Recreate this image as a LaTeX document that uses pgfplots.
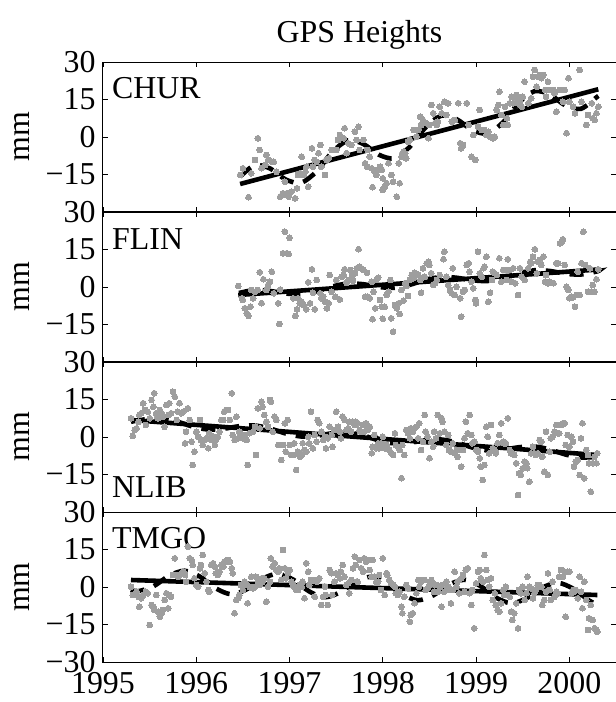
\documentclass[border=0pt]{standalone}
\usepackage{fontspec}
\setmainfont{Liberation Serif}
\usepackage{pgfplots}
\pgfplotsset{compat=1.18}
\definecolor{dotgray}{RGB}{158,158,158}
\newcommand{\bigf}{\fontsize{32}{33}\selectfont}
\pgfplotsset{
  gpspanel/.style={
    scale only axis, width=513bp, height=150bp,
    xmin=1995, xmax=2000.5, ymin=-30, ymax=30,
    xtick={1995,1996,1997,1998,1999,2000},
    ytick={-30,-15,0,15,30},
    xticklabels={},
    yticklabels={,−15,0,15,30},
    tick align=inside, tick pos=both,
    major tick length=5bp,
    axis line style={line width=1bp},
    every tick/.style={black, line width=0.8bp},
    tick label style={font=\bigf},
    yticklabel style={xshift=-4bp},
    xticklabel style={inner sep=0pt, anchor=north, yshift=-10bp},
    ylabel={mm},
    ylabel style={font=\bigf, at={(0,0.5)}, anchor=center, yshift=81bp},
    anchor=north west,
  },
  dots/.style={only marks, color=dotgray, mark=*, mark size=2.9bp,
    mark options={solid, draw=dotgray, fill=dotgray, line width=0pt}},
  trend/.style={black, line width=4.6bp, no markers},
  seas/.style={black, line width=4.6bp, dash pattern=on 14bp off 10bp, no markers, smooth},
}
\begin{document}
\begin{tikzpicture}
\path[use as bounding box] (-103bp,-640bp) rectangle (513bp,62bp);

% CHUR
\begin{axis}[gpspanel, at={(0,0)},
  title={GPS Heights}, title style={font=\bigf, at={(0.5,1)}, anchor=base, yshift=14bp}]
\addplot[dots] coordinates {
(1996.50,-12.5) (1996.47,-15.2) (1996.56,-24.1) (1996.59,-14.5) (1996.63,-9.2) (1996.66,-0.5)
(1996.68,-5.2) (1996.70,-12.5) (1996.74,-11.2) (1996.75,-7.2) (1996.77,-9.2) (1996.81,-9.9)
(1996.83,-9.9) (1996.86,-13.9) (1996.90,-23.9) (1996.92,-23.2) (1996.93,-22.5) (1996.95,-17.9)
(1996.97,-22.5) (1996.99,-23.9) (1997.00,-22.5) (1997.02,-21.9) (1997.06,-24.5) (1997.08,-20.5)
(1997.09,-15.2) (1997.11,-14.5) (1997.13,-7.9) (1997.15,-15.2) (1997.17,-13.9) (1997.18,-11.9)
(1997.20,-19.9) (1997.24,-4.5) (1997.25,-11.9) (1997.27,-9.2) (1997.29,-9.9) (1997.31,-6.5)
(1997.33,-3.2) (1997.34,-11.9) (1997.38,-15.2) (1997.40,-9.2) (1997.42,-8.5) (1997.45,-5.2)
(1997.47,-5.2) (1997.50,-5.2) (1997.52,-1.2) (1997.54,0.8) (1997.58,-0.5) (1997.59,3.5)
(1997.61,-6.5) (1997.63,-2.5) (1997.66,-3.2) (1997.70,2.1) (1997.72,-1.2) (1997.74,4.1)
(1997.75,-5.2) (1997.79,-1.2) (1997.81,-10.5) (1997.83,-11.9) (1997.84,-5.2) (1997.86,-7.9)
(1997.88,-12.5) (1997.89,-20.1) (1997.90,-13.2) (1997.92,-13.9) (1997.93,-15.2) (1997.95,-13.2)
(1997.97,-11.9) (1997.99,-13.2) (1998.00,-21.2) (1998.00,-16.5) (1998.02,-19.9) (1998.04,-18.5)
(1998.06,-10.5) (1998.09,-15.2) (1998.11,-17.9) (1998.15,-23.9) (1998.17,-10.5) (1998.18,-18.5)
(1998.20,-7.9) (1998.22,-5.9) (1998.24,-6.5) (1998.25,-8.5) (1998.27,-1.9) (1998.29,-1.2)
(1998.33,2.8) (1998.36,0.1) (1998.38,2.8) (1998.40,8.1) (1998.41,4.8) (1998.43,6.8)
(1998.47,5.5) (1998.49,-0.5) (1998.50,4.8) (1998.52,12.8) (1998.54,9.5) (1998.56,5.5)
(1998.58,4.8) (1998.59,6.1) (1998.61,12.1) (1998.63,9.5) (1998.66,14.1) (1998.68,8.8)
(1998.70,13.5) (1998.74,6.1) (1998.77,6.8) (1998.81,13.5) (1998.83,-2.5) (1998.84,-4.5)
(1998.86,-3.2) (1998.90,13.5) (1998.92,4.8) (1998.95,-7.9) (1998.97,0.8) (1998.99,-9.2)
(1999.02,4.1) (1999.04,10.8) (1999.06,2.8) (1999.09,2.8) (1999.11,0.8) (1999.13,2.1)
(1999.15,0.1) (1999.18,-0.5) (1999.20,0.1) (1999.22,10.8) (1999.24,12.8) (1999.25,18.1)
(1999.27,8.8) (1999.29,4.8) (1999.31,12.1) (1999.33,7.5) (1999.34,4.8) (1999.36,13.5)
(1999.38,16.1) (1999.40,13.5) (1999.42,15.5) (1999.43,16.8) (1999.45,13.5) (1999.47,14.1)
(1999.49,12.1) (1999.50,16.1) (1999.52,22.1) (1999.56,13.5) (1999.59,15.5) (1999.61,24.1)
(1999.63,26.8) (1999.65,20.1) (1999.66,24.1) (1999.68,24.8) (1999.70,23.5) (1999.72,24.8)
(1999.74,18.8) (1999.75,16.1) (1999.77,22.1) (1999.79,18.8) (1999.83,18.8) (1999.84,17.5)
(1999.86,10.1) (1999.90,18.8) (1999.93,14.1) (1999.95,18.8) (1999.97,1.5) (1999.99,23.5)
(2000.00,14.1) (2000.04,12.1) (2000.06,9.5) (2000.11,26.8) (2000.13,14.1) (2000.18,4.8)
(2000.20,8.8) (2000.24,13.5) (2000.25,7.5) (2000.27,6.8) (2000.29,9.5) (2000.31,12.1)
};
\addplot[seas] coordinates {
(1996.47,-15.9) (1996.625,-11.3) (1996.792,-12.6) (1996.958,-17.0) (1997.125,-18.3)
(1997.292,-13.7) (1997.458,-6.0) (1997.625,-1.4) (1997.792,-2.8) (1997.958,-7.1)
(1998.125,-8.5) (1998.292,-3.8) (1998.458,3.8) (1998.625,8.5) (1998.792,7.1)
(1998.958,2.8) (1999.125,1.4) (1999.292,6.0) (1999.458,13.7) (1999.625,18.3)
(1999.792,17.0) (1999.958,12.6) (2000.125,11.3) (2000.292,15.9) (2000.31,16.4)
};
\addplot[trend] coordinates {(1996.47,-18.8) (2000.31,19.1)};
\node[anchor=north west, inner sep=0, font=\bigf, xshift=9bp, yshift=-15bp] at (rel axis cs:0,1) {CHUR};
\end{axis}

% FLIN
\begin{axis}[gpspanel, at={(0,-150bp)}]
\addplot[dots] coordinates {
(1996.45,0.4) (1996.49,-4.5) (1996.50,-5.2) (1996.52,-8.5) (1996.54,-10.5) (1996.56,-11.6)
(1996.58,-7.9) (1996.59,-1.2) (1996.61,-4.5) (1996.63,-1.9) (1996.66,-1.2) (1996.68,5.9)
(1996.70,-6.5) (1996.72,3.1) (1996.75,-1.2) (1996.77,0.8) (1996.79,2.1) (1996.81,6.1)
(1996.83,-2.5) (1996.88,-6.5) (1996.89,-14.8) (1996.90,-1.0) (1996.93,13.5) (1996.95,22.1)
(1996.97,13.5) (1996.99,13.2) (1997.00,19.7) (1997.04,-4.5) (1997.06,-11.6) (1997.08,-8.9)
(1997.09,-4.5) (1997.11,-6.5) (1997.13,-5.9) (1997.15,-7.2) (1997.18,-8.9) (1997.20,1.9)
(1997.22,-6.5) (1997.24,7.1) (1997.25,-2.3) (1997.27,-8.9) (1997.29,2.8) (1997.33,-2.5)
(1997.34,-4.5) (1997.36,-3.9) (1997.38,-5.9) (1997.40,-8.5) (1997.42,-6.5) (1997.43,4.8)
(1997.45,-1.9) (1997.49,-3.9) (1997.50,2.8) (1997.54,-5.0) (1997.56,4.1) (1997.58,4.8)
(1997.59,7.1) (1997.61,1.7) (1997.63,2.8) (1997.65,6.8) (1997.67,4.8) (1997.68,2.5)
(1997.70,5.5) (1997.72,7.5) (1997.74,15.1) (1997.75,8.1) (1997.77,7.5) (1997.79,6.8)
(1997.81,-3.9) (1997.83,5.7) (1997.84,-3.9) (1997.86,-4.5) (1997.88,2.1) (1997.89,-12.9)
(1997.90,-1.9) (1997.92,-8.5) (1997.93,2.8) (1997.95,3.7) (1997.97,-5.2) (1997.99,-7.9)
(1998.00,-12.7) (1998.02,-7.9) (1998.04,-3.2) (1998.06,-1.9) (1998.08,2.8) (1998.09,-12.5)
(1998.11,-17.9) (1998.13,-7.2) (1998.15,-8.5) (1998.17,-6.5) (1998.18,-10.8) (1998.20,-1.2)
(1998.22,-5.5) (1998.24,1.5) (1998.25,0.4) (1998.27,-3.6) (1998.29,2.8) (1998.31,4.8)
(1998.33,3.5) (1998.34,5.7) (1998.36,5.2) (1998.38,4.8) (1998.40,2.8) (1998.41,-2.3)
(1998.43,7.5) (1998.45,4.1) (1998.47,9.5) (1998.49,10.1) (1998.50,8.8) (1998.52,5.5)
(1998.54,0.8) (1998.56,1.5) (1998.58,2.8) (1998.61,4.8) (1998.65,11.1) (1998.66,14.1)
(1998.68,4.1) (1998.70,0.8) (1998.72,-1.2) (1998.74,-2.5) (1998.75,7.5) (1998.77,-3.2)
(1998.79,0.1) (1998.83,-4.5) (1998.84,-11.9) (1998.86,-1.9) (1998.88,-1.2) (1998.90,8.8)
(1998.92,9.5) (1998.93,6.1) (1998.95,2.1) (1998.97,-0.5) (1998.99,-5.2) (1999.00,-6.5)
(1999.02,14.1) (1999.04,5.5) (1999.06,4.1) (1999.08,7.5) (1999.09,8.1) (1999.11,12.1)
(1999.13,-5.9) (1999.15,-2.3) (1999.17,2.8) (1999.18,6.1) (1999.20,5.5) (1999.22,4.8)
(1999.25,11.5) (1999.27,2.1) (1999.29,6.8) (1999.31,6.8) (1999.33,2.8) (1999.34,11.1)
(1999.36,6.8) (1999.38,2.1) (1999.40,7.5) (1999.42,1.5) (1999.45,-3.2) (1999.47,7.5)
(1999.49,4.1) (1999.52,2.8) (1999.56,7.5) (1999.58,10.1) (1999.59,9.5) (1999.61,12.1)
(1999.63,15.1) (1999.65,5.5) (1999.66,10.1) (1999.68,10.8) (1999.70,8.8) (1999.72,12.1)
(1999.74,2.1) (1999.75,4.8) (1999.77,1.5) (1999.79,2.1) (1999.83,1.5) (1999.86,9.5)
(1999.88,9.5) (1999.90,17.5) (1999.92,18.1) (1999.93,19.1) (1999.95,8.8) (1999.97,0.1)
(1999.99,-1.2) (2000.00,-4.5) (2000.02,-3.9) (2000.04,-4.1) (2000.06,-7.9) (2000.08,-3.2)
(2000.09,6.1) (2000.11,-3.2) (2000.13,9.5) (2000.15,22.1) (2000.17,8.8) (2000.20,-1.9)
(2000.22,7.5) (2000.24,-1.9) (2000.25,0.8) (2000.27,-1.9) (2000.29,3.1) (2000.31,7.1)
};
\addplot[seas] coordinates {
(1996.458,-2.4) (1996.625,-1.2) (1996.792,-1.6) (1996.958,-2.6) (1997.125,-2.9)
(1997.292,-1.7) (1997.458,0.2) (1997.625,1.4) (1997.792,1.1) (1997.958,0.0)
(1998.125,-0.3) (1998.292,0.9) (1998.458,2.9) (1998.625,4.0) (1998.792,3.7)
(1998.958,2.7) (1999.125,2.4) (1999.292,3.6) (1999.458,5.5) (1999.625,6.7)
(1999.792,6.4) (1999.958,5.3) (2000.125,5.0) (2000.292,6.2) (2000.31,6.3)
};
\addplot[trend] coordinates {(1996.45,-3.2) (2000.31,7.0)};
\node[anchor=north west, inner sep=0, font=\bigf, xshift=9bp, yshift=-16bp] at (rel axis cs:0,1) {FLIN};
\end{axis}

% NLIB
\begin{axis}[gpspanel, at={(0,-300bp)}]
\addplot[dots] coordinates {
(1995.30,7.5) (1995.32,0.4) (1995.34,2.8) (1995.36,3.5) (1995.38,6.1) (1995.39,8.8)
(1995.41,9.5) (1995.43,13.5) (1995.45,10.8) (1995.46,4.8) (1995.48,10.1) (1995.50,7.5)
(1995.52,14.8) (1995.54,12.1) (1995.55,17.5) (1995.57,9.5) (1995.59,7.5) (1995.61,10.8)
(1995.63,9.5) (1995.64,8.1) (1995.66,4.1) (1995.68,12.8) (1995.70,8.8) (1995.71,13.5)
(1995.73,9.5) (1995.75,18.1) (1995.77,16.1) (1995.79,6.8) (1995.80,10.1) (1995.82,13.5)
(1995.84,9.5) (1995.86,10.1) (1995.88,-2.5) (1995.89,2.1) (1995.91,11.5) (1995.93,6.8)
(1995.95,-1.9) (1995.96,-11.2) (1995.98,-5.9) (1996.00,2.1) (1996.02,0.1) (1996.04,6.8)
(1996.05,-1.2) (1996.07,-3.2) (1996.09,-1.2) (1996.11,-0.5) (1996.13,-4.5) (1996.14,1.5)
(1996.16,-1.2) (1996.18,0.1) (1996.20,-3.2) (1996.21,-1.2) (1996.23,0.1) (1996.25,2.1)
(1996.27,6.8) (1996.29,6.8) (1996.30,10.1) (1996.32,10.8) (1996.34,10.8) (1996.36,6.8)
(1996.38,17.5) (1996.39,0.8) (1996.41,-1.2) (1996.43,8.1) (1996.45,-0.5) (1996.46,2.1)
(1996.48,0.8) (1996.50,-0.5) (1996.52,0.8) (1996.54,-1.2) (1996.55,-11.2) (1996.57,1.5)
(1996.61,2.1) (1996.63,4.1) (1996.64,-7.2) (1996.66,11.5) (1996.68,3.5) (1996.70,14.1)
(1996.71,12.1) (1996.73,8.8) (1996.75,6.1) (1996.77,4.1) (1996.79,14.8) (1996.80,14.1)
(1996.82,2.1) (1996.84,8.1) (1996.86,6.8) (1996.88,-3.2) (1996.89,-3.2) (1996.91,-9.2)
(1996.93,-3.2) (1996.95,5.5) (1996.96,-5.9) (1996.98,6.8) (1997.00,-3.2) (1997.02,-7.2)
(1997.04,-7.2) (1997.05,-2.5) (1997.07,-13.2) (1997.09,-5.9) (1997.11,-7.9) (1997.13,-7.2)
(1997.14,-2.5) (1997.16,-5.2) (1997.18,-5.9) (1997.20,0.1) (1997.21,-2.5) (1997.23,10.1)
(1997.25,-4.5) (1997.27,0.8) (1997.29,-1.9) (1997.30,6.8) (1997.32,5.5) (1997.34,2.1)
(1997.36,-1.2) (1997.38,0.1) (1997.39,-4.5) (1997.41,-0.5) (1997.43,4.1) (1997.45,0.8)
(1997.46,-3.9) (1997.48,2.8) (1997.50,10.1) (1997.52,4.1) (1997.54,2.1) (1997.55,-0.5)
(1997.57,8.1) (1997.59,6.8) (1997.61,2.8) (1997.63,3.5) (1997.64,6.1) (1997.66,2.1)
(1997.68,6.1) (1997.70,4.8) (1997.71,6.1) (1997.73,5.5) (1997.75,2.8) (1997.77,2.1)
(1997.79,4.8) (1997.80,2.1) (1997.82,5.5) (1997.84,2.8) (1997.86,4.1) (1997.88,-6.5)
(1997.89,-3.9) (1997.91,0.8) (1997.93,-4.5) (1997.95,-2.5) (1997.96,-4.5) (1997.98,-2.5)
(1998.00,0.1) (1998.02,-4.5) (1998.04,-3.2) (1998.05,-4.5) (1998.07,-5.2) (1998.09,-6.5)
(1998.11,-7.2) (1998.13,1.5) (1998.14,-3.2) (1998.16,-3.9) (1998.18,-5.2) (1998.20,-16.5)
(1998.21,-3.2) (1998.23,-7.2) (1998.25,2.8) (1998.27,1.5) (1998.29,-0.5) (1998.30,3.5)
(1998.32,2.1) (1998.34,3.5) (1998.36,4.1) (1998.38,-0.5) (1998.39,5.5) (1998.41,-5.2)
(1998.43,-1.9) (1998.45,8.8) (1998.46,2.1) (1998.48,0.1) (1998.50,-8.5) (1998.52,-1.9)
(1998.54,-3.9) (1998.55,2.1) (1998.57,-0.5) (1998.59,8.8) (1998.61,1.5) (1998.63,7.5)
(1998.64,6.1) (1998.66,2.1) (1998.68,-3.2) (1998.70,0.8) (1998.71,-5.2) (1998.73,-5.9)
(1998.75,-2.5) (1998.77,-6.5) (1998.79,-5.2) (1998.80,-7.9) (1998.82,-5.2) (1998.84,-11.9)
(1998.86,-5.2) (1998.875,-0.5) (1998.89,6.1) (1998.91,1.5) (1998.93,8.8) (1998.95,0.8)
(1998.96,-2.5) (1998.98,-1.9) (1999.00,-5.2) (1999.02,-5.9) (1999.04,-8.5) (1999.05,-11.9)
(1999.07,-17.2) (1999.09,-11.2) (1999.11,4.1) (1999.125,0.1) (1999.14,-6.5) (1999.16,4.8)
(1999.18,-4.5) (1999.20,-5.2) (1999.21,-6.5) (1999.23,-2.5) (1999.25,0.8) (1999.27,5.5)
(1999.29,-1.9) (1999.30,-2.5) (1999.32,-2.5) (1999.34,7.5) (1999.36,-5.2) (1999.375,-6.5)
(1999.39,-6.5) (1999.41,-7.2) (1999.43,-10.5) (1999.45,-23.2) (1999.46,-14.5) (1999.48,-15.2)
(1999.50,-12.5) (1999.52,-9.9) (1999.54,-10.5) (1999.55,-12.5) (1999.57,-17.9) (1999.59,-6.5)
(1999.61,-3.9) (1999.625,-6.5) (1999.64,-7.2) (1999.66,-6.5) (1999.68,-1.2) (1999.70,-1.9)
(1999.71,-7.9) (1999.73,-13.9) (1999.75,2.1) (1999.77,-15.2) (1999.79,-5.9) (1999.80,-0.5)
(1999.82,0.1) (1999.84,2.1) (1999.86,4.8) (1999.875,1.5) (1999.89,1.5) (1999.91,4.8)
(1999.93,5.5) (1999.95,5.5) (1999.96,-3.2) (1999.98,0.8) (2000.00,-3.9) (2000.02,0.1)
(2000.04,-1.9) (2000.05,-11.9) (2000.07,-9.9) (2000.09,-9.2) (2000.11,-15.2) (2000.125,-0.5)
(2000.14,5.5) (2000.16,-16.5) (2000.18,-5.2) (2000.20,-7.2) (2000.21,-10.5) (2000.23,-21.9)
(2000.25,-10.5) (2000.27,-7.9) (2000.29,-10.5) (2000.30,-6.5)
};
\addplot[seas] coordinates {
(1995.30,6.1) (1995.458,7.1) (1995.625,7.4) (1995.792,6.2) (1995.958,4.2)
(1996.125,3.0) (1996.292,3.3) (1996.458,4.3) (1996.625,4.6) (1996.792,3.4)
(1996.958,1.4) (1997.125,0.2) (1997.292,0.5) (1997.458,1.5) (1997.625,1.8)
(1997.792,0.6) (1997.958,-1.4) (1998.125,-2.6) (1998.292,-2.3) (1998.458,-1.3)
(1998.625,-1.0) (1998.792,-2.2) (1998.958,-4.2) (1999.125,-5.4) (1999.292,-5.1)
(1999.458,-4.1) (1999.625,-3.8) (1999.792,-5.0) (1999.958,-7.0) (2000.125,-8.2)
(2000.30,-7.9)
};
\addplot[trend] coordinates {(1995.30,6.8) (2000.30,-7.2)};
\node[anchor=south west, inner sep=0, font=\bigf, xshift=9bp, yshift=14bp] at (rel axis cs:0,0) {NLIB};
\end{axis}

% TMGO
\begin{axis}[gpspanel, at={(0,-450bp)},
  yticklabels={−30,−15,0,15,30},
  xticklabels={1995,1996,1997,1998,1999,2000}]
\addplot[dots] coordinates {
(1995.30,0.1) (1995.32,-3.2) (1995.34,-3.2) (1995.36,-1.9) (1995.38,-3.9) (1995.39,-7.9)
(1995.41,-4.5) (1995.43,-3.2) (1995.46,-1.9) (1995.48,-2.5) (1995.50,-15.2) (1995.52,-7.2)
(1995.54,-7.9) (1995.55,-9.2) (1995.57,-3.2) (1995.59,-9.9) (1995.61,-11.9) (1995.63,-10.5)
(1995.64,-9.2) (1995.66,-5.2) (1995.68,-2.5) (1995.70,-8.5) (1995.71,-3.2) (1995.73,-3.9)
(1995.75,4.8) (1995.77,11.5) (1995.79,4.8) (1995.80,4.1) (1995.82,4.8) (1995.84,5.5)
(1995.86,6.1) (1995.88,4.8) (1995.89,2.1) (1995.91,16.1) (1995.93,11.5) (1995.95,10.8)
(1995.96,8.8) (1995.98,3.5) (1996.00,0.8) (1996.02,0.1) (1996.04,7.5) (1996.05,8.8)
(1996.07,12.8) (1996.09,5.5) (1996.11,2.1) (1996.13,-1.2) (1996.14,-1.9) (1996.16,8.8)
(1996.18,9.5) (1996.20,8.1) (1996.21,5.5) (1996.23,4.8) (1996.25,6.1) (1996.27,8.8)
(1996.29,8.1) (1996.30,10.1) (1996.32,10.1) (1996.34,10.8) (1996.36,10.1) (1996.38,7.5)
(1996.39,5.5) (1996.41,-10.5) (1996.43,-5.2) (1996.45,-4.5) (1996.46,-3.2) (1996.48,0.8)
(1996.50,-1.2) (1996.52,2.1) (1996.54,0.8) (1996.55,-6.5) (1996.57,0.1) (1996.59,4.1)
(1996.61,-0.5) (1996.63,0.1) (1996.64,4.1) (1996.66,2.1) (1996.68,0.8) (1996.70,3.5)
(1996.71,2.1) (1996.73,3.5) (1996.75,-5.9) (1996.77,0.1) (1996.79,2.1) (1996.80,11.5)
(1996.82,8.1) (1996.84,9.5) (1996.86,6.8) (1996.88,6.1) (1996.89,7.5) (1996.91,2.8)
(1996.93,14.8) (1996.95,7.5) (1996.96,3.5) (1996.98,5.5) (1997.00,6.8) (1997.02,2.1)
(1997.04,0.8) (1997.05,0.1) (1997.07,-1.2) (1997.09,-1.2) (1997.11,0.8) (1997.13,0.1)
(1997.14,2.1) (1997.16,-4.5) (1997.18,9.5) (1997.20,6.1) (1997.21,0.8) (1997.23,2.8)
(1997.25,2.8) (1997.27,-3.9) (1997.29,2.1) (1997.30,2.8) (1997.32,3.5) (1997.34,-7.2)
(1997.36,-3.9) (1997.38,0.1) (1997.39,-3.2) (1997.41,-7.2) (1997.43,6.8) (1997.45,5.5)
(1997.46,-3.2) (1997.48,2.1) (1997.50,5.5) (1997.52,4.8) (1997.54,3.5) (1997.55,6.1)
(1997.57,8.8) (1997.59,4.1) (1997.61,0.8) (1997.63,1.5) (1997.64,-2.5) (1997.66,2.8)
(1997.68,7.5) (1997.70,12.1) (1997.71,8.8) (1997.73,2.1) (1997.75,10.8) (1997.77,7.5)
(1997.79,6.1) (1997.80,11.5) (1997.82,10.1) (1997.84,10.8) (1997.86,6.8) (1997.88,4.1)
(1997.89,10.8) (1997.91,4.1) (1997.93,2.1) (1997.95,2.1) (1997.96,4.8) (1997.98,-1.2)
(1998.00,11.5) (1998.02,-3.2) (1998.04,5.5) (1998.05,4.8) (1998.07,2.8) (1998.09,1.5)
(1998.11,0.8) (1998.13,0.1) (1998.14,-2.5) (1998.16,-3.2) (1998.18,-1.9) (1998.20,-7.9)
(1998.21,-10.5) (1998.23,-3.9) (1998.25,0.8) (1998.27,-0.5) (1998.29,-13.9) (1998.30,-11.2)
(1998.32,-10.5) (1998.34,-6.5) (1998.36,-2.5) (1998.38,2.8) (1998.39,0.1) (1998.41,2.1)
(1998.43,2.8) (1998.45,2.8) (1998.46,-1.2) (1998.48,-0.5) (1998.50,0.8) (1998.52,2.8)
(1998.54,1.5) (1998.55,-1.9) (1998.57,0.8) (1998.59,-1.9) (1998.61,0.1) (1998.63,-7.9)
(1998.64,0.8) (1998.66,-1.9) (1998.68,2.1) (1998.70,0.1) (1998.71,-1.2) (1998.73,-6.5)
(1998.75,-1.2) (1998.77,6.1) (1998.79,0.1) (1998.80,2.1) (1998.82,-2.5) (1998.84,3.5)
(1998.86,4.8) (1998.875,-1.9) (1998.89,6.8) (1998.91,7.5) (1998.93,-2.5) (1998.95,-7.2)
(1998.96,-1.2) (1998.98,-16.5) (1999.00,1.5) (1999.02,6.1) (1999.04,6.8) (1999.05,3.5)
(1999.07,2.1) (1999.09,12.8) (1999.11,6.8) (1999.125,2.8) (1999.14,0.1) (1999.16,3.5)
(1999.18,-5.2) (1999.20,-2.5) (1999.21,-7.2) (1999.23,-9.2) (1999.25,-9.9) (1999.27,-6.5)
(1999.29,-1.2) (1999.30,-3.2) (1999.32,0.1) (1999.34,-3.2) (1999.36,-3.9) (1999.375,-9.9)
(1999.39,-13.2) (1999.41,-10.5) (1999.43,-6.5) (1999.45,-16.5) (1999.46,-1.2) (1999.48,-2.5)
(1999.50,0.1) (1999.52,-5.2) (1999.54,-2.5) (1999.55,4.1) (1999.57,0.1) (1999.59,-0.5)
(1999.61,-4.5) (1999.625,-2.5) (1999.64,-1.2) (1999.66,0.8) (1999.68,0.8) (1999.70,0.1)
(1999.71,-7.2) (1999.73,-5.2) (1999.75,-1.9) (1999.77,5.5) (1999.79,-1.2) (1999.80,-5.2)
(1999.82,2.1) (1999.84,-3.9) (1999.86,-1.9) (1999.875,-2.5) (1999.89,4.1) (1999.91,6.8)
(1999.93,4.1) (1999.95,6.1) (1999.96,-11.9) (1999.98,6.1) (2000.00,6.1) (2000.02,-2.5)
(2000.04,-1.2) (2000.05,-1.9) (2000.07,-1.2) (2000.09,-4.5) (2000.11,4.1) (2000.125,-1.9)
(2000.14,-8.5) (2000.16,2.1) (2000.18,-5.2) (2000.20,-17.2) (2000.21,-12.5) (2000.23,-7.2)
(2000.25,-13.2) (2000.27,-16.5) (2000.29,-17.2) (2000.30,-17.9)
};
\addplot[seas] coordinates {
(1995.30,-1.1) (1995.375,-1.7) (1995.542,0.3) (1995.708,4.5) (1995.875,6.5)
(1996.042,4.1) (1996.208,-0.5) (1996.375,-2.9) (1996.542,-0.9) (1996.708,3.3)
(1996.875,5.3) (1997.042,2.9) (1997.208,-1.7) (1997.375,-4.1) (1997.542,-2.1)
(1997.708,2.1) (1997.875,4.1) (1998.042,1.7) (1998.208,-2.9) (1998.375,-5.3)
(1998.542,-3.3) (1998.708,0.9) (1998.875,2.9) (1999.042,0.5) (1999.208,-4.1)
(1999.375,-6.5) (1999.542,-4.5) (1999.708,-0.3) (1999.875,1.7) (2000.042,-0.7)
(2000.208,-5.3) (2000.30,-7.1)
};
\addplot[trend] coordinates {(1995.30,2.8) (2000.30,-3.2)};
\node[anchor=north west, inner sep=0, font=\bigf, xshift=9bp, yshift=-15bp] at (rel axis cs:0,1) {TMGO};
\end{axis}
\end{tikzpicture}
\end{document}
